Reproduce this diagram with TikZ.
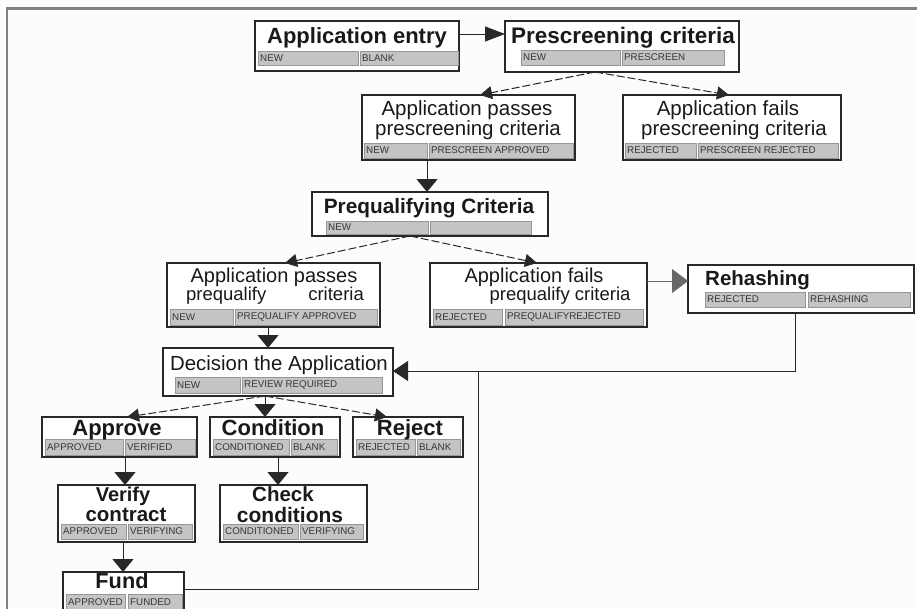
\documentclass[tikz,border=0pt]{standalone}
\usepackage{fontspec}
\setmainfont{Liberation Sans}
\usetikzlibrary{arrows.meta,calc}
\definecolor{framegray}{RGB}{128,128,128}
\definecolor{cellfill}{RGB}{196,196,196}
\definecolor{celledge}{RGB}{150,150,150}
\definecolor{celltext}{RGB}{55,55,55}
\definecolor{boxedge}{RGB}{40,40,40}
\definecolor{bgcol}{RGB}{252,252,252}
\tikzset{
  stbox/.style={draw=boxedge, line width=1.2pt, fill=white, inner sep=0pt, outer sep=0pt, anchor=north west},
  cellbx/.style={draw=celledge, line width=0.6pt, fill=cellfill, inner sep=0pt, outer sep=0pt, anchor=north west},
  celltx/.style={font=\fontsize{9.8}{10}\selectfont, text=celltext, inner sep=0pt, anchor=west},
  ttlb/.style={font=\fontsize{#1}{#1}\selectfont\bfseries, text=black!90, inner sep=0pt, anchor=base},
  ttlr/.style={font=\fontsize{#1}{#1}\selectfont, text=black!90, inner sep=0pt, anchor=base},
  flow/.style={draw=boxedge, line width=1pt, -{Triangle[length=13pt,width=21pt]}},
  dflow/.style={draw=boxedge, line width=1pt, dash pattern=on 8pt off 3pt, -{Triangle[length=12pt,width=13pt]}},
  plainln/.style={draw=boxedge, line width=1pt},
}
\newcommand{\mkbox}[5]{\node[stbox, minimum width={#4-#2}, minimum height={#5-#3}] (#1) at (#2,#3) {};}
\newcommand{\mkcell}[6]{\node[cellbx, minimum width={#4-#2}, minimum height={#5-#3}] (#1) at (#2,#3) {};
  \node[celltx] (#1t) at ([xshift=2pt]#1.west) {#6};}
\begin{document}
\begin{tikzpicture}[x=1pt,y=-1pt]
\useasboundingbox (0,0) rectangle (917,608);
\fill[bgcol] (0,0) rectangle (917,608);
\clip (0,0) rectangle (917,608);
\draw[framegray, line width=2.2pt] (7,620) -- (7,8.5) -- (925,8.5);

% Application entry
\mkbox{entry}{255}{21}{459}{71}
\mkcell{entryA}{258}{51}{358}{65}{NEW}
\mkcell{entryB}{360}{51}{458}{65}{BLANK}
\node[ttlb=22] (entryT) at (357,43) {Application entry};

% Prescreening criteria
\mkbox{prescreen}{505}{21}{739}{72}
\mkcell{prescreenA}{521}{50}{620}{65}{NEW}
\mkcell{prescreenB}{622}{50}{724}{65}{PRESCREEN}
\node[ttlb=22.5] (prescreenT) at (623,43) {Prescreening criteria};

% passes prescreening
\mkbox{passpre}{362}{95}{575}{160}
\mkcell{passpreA}{364}{143}{427}{158}{NEW}
\mkcell{passpreB}{429}{143}{573}{158}{PRESCREEN APPROVED}
\node[ttlr=20.5] (passpreT1) at (467,115) {Application passes};
\node[ttlr=20.5] (passpreT2) at (468,135) {prescreening criteria};

% fails prescreening
\mkbox{failpre}{623}{95}{841}{160}
\mkcell{failpreA}{625}{143}{696}{158}{REJECTED}
\mkcell{failpreB}{698}{143}{838}{158}{PRESCREEN REJECTED}
\node[ttlr=20.5] (failpreT1) at (728,115) {Application fails};
\node[ttlr=20.5] (failpreT2) at (734,135) {prescreening criteria};

% Prequalifying criteria
\mkbox{prequal}{312}{192}{548}{236}
\mkcell{prequalA}{326}{221}{428}{234}{NEW}
\mkcell{prequalB}{430}{221}{531}{234}{}
\node[ttlb=20.8] (prequalT) at (429,213) {Prequalifying Criteria};

% passes prequalify
\mkbox{passq}{167}{263}{380}{327}
\mkcell{passqA}{170}{309}{233}{325}{NEW}
\mkcell{passqB}{235}{309}{377}{325}{PREQUALIFY APPROVED}
\node[ttlr=20] (passqT1) at (274,282) {Application passes};
\node[ttlr=18.5] (passqT2) at (275,300) {prequalify\hspace{42pt}criteria};

% fails prequalify
\mkbox{failq}{430}{263}{647}{327}
\mkcell{failqA}{433}{309}{502}{325}{REJECTED}
\mkcell{failqB}{505}{309}{643}{325}{PREQUALIFYREJECTED}
\node[ttlr=20] (failqT1) at (534,282) {Application fails};
\node[ttlr=18.5] (failqT2) at (560,300) {prequalify criteria};

% Rehashing
\mkbox{rehash}{688}{265}{914}{313}
\mkcell{rehashA}{705}{292}{805}{307}{REJECTED}
\mkcell{rehashB}{808}{292}{910}{307}{REHASHING}
\node[ttlb=20.5, anchor=base west] (rehashT) at (705,285) {Rehashing};

% Decision
\mkbox{decision}{163}{348}{393}{396}
\mkcell{decisionA}{175}{377}{240}{393}{NEW}
\mkcell{decisionB}{242}{377}{382}{393}{REVIEW REQUIRED}
\node[ttlr=20.4] (decisionT) at (279,370) {Decision the Application};

% Approve / Condition / Reject
\mkbox{approve}{42}{417}{197}{457}
\mkcell{approveA}{45}{439}{123}{455}{APPROVED}
\mkcell{approveB}{125}{439}{195}{455}{VERIFIED}
\node[ttlb=22] (approveT) at (117,435) {Approve};

\mkbox{condition}{210}{417}{340}{457}
\mkcell{conditionA}{213}{439}{289}{455}{CONDITIONED}
\mkcell{conditionB}{291}{439}{337}{455}{BLANK}
\node[ttlb=22] (conditionT) at (273,435) {Condition};

\mkbox{reject}{353}{417}{463}{457}
\mkcell{rejectA}{356}{439}{415}{455}{REJECTED}
\mkcell{rejectB}{417}{439}{460}{455}{BLANK}
\node[ttlb=22] (rejectT) at (410,435) {Reject};

% Verify contract
\mkbox{verify}{58}{485}{195}{542}
\mkcell{verifyA}{61}{524}{126}{539}{APPROVED}
\mkcell{verifyB}{128}{524}{192}{539}{VERIFYING}
\node[ttlb=20] (verifyT1) at (123,501) {Verify};
\node[ttlb=20.5] (verifyT2) at (126,521) {contract};

% Check conditions
\mkbox{check}{220}{485}{367}{542}
\mkcell{checkA}{223}{524}{298}{539}{CONDITIONED}
\mkcell{checkB}{300}{524}{363}{539}{VERIFYING}
\node[ttlb=20.5] (checkT1) at (283,501) {Check};
\node[ttlb=21] (checkT2) at (290,522) {conditions};

% Fund
\mkbox{fund}{63}{572}{184}{615}
\mkcell{fundA}{66}{594}{125}{610}{APPROVED}
\mkcell{fundB}{128}{594}{182}{610}{FUNDED}
\node[ttlb=21.7] (fundT) at (122,588) {Fund};

% ---- connectors ----
\draw[flow, -{Triangle[length=20pt,width=15pt]}] ($(entry.north east)+(0,13)$) -- ($(prescreen.north west)+(0,13)$);

\coordinate (ps) at ($(prescreen.south)+(-27,0)$);
\draw[dflow] (ps) -- ($(passpre.north west)+(118,0)$);
\draw[dflow] (ps) -- ($(failpre.north west)+(106,0)$);

\coordinate (p1) at ($(passpre.south west)+(65,0)$);
\draw[flow] (p1) -- (p1 |- prequal.north);

\coordinate (qs) at ($(prequal.south)+(-20,0)$);
\draw[dflow] (qs) -- ($(passq.north west)+(118,0)$);
\draw[dflow] (qs) -- ($(failq.north west)+(107,0)$);

\coordinate (r1) at ($(failq.north east)+(0,18)$);
\draw[flow, draw=boxedge!70, -{Triangle[length=16pt,width=24pt]}] (r1) -- (r1 -| rehash.west);

\coordinate (d1) at ($(passq.south west)+(101,0)$);
\draw[flow] (d1) -- (d1 |- decision.north);

\coordinate (ds) at ($(decision.south)+(-13,0)$);
\draw[dflow] (ds) -- ($(approve.north west)+(85,0)$);
\draw[flow] (ds) -- (ds |- condition.north);
\draw[dflow] (ds) -- ($(reject.north west)+(34,0)$);

\coordinate (a1) at ($(approve.south west)+(83,0)$);
\draw[flow] (a1) -- (a1 |- verify.north);
\coordinate (c1) at ($(condition.south west)+(68,0)$);
\draw[flow] (c1) -- (c1 |- check.north);
\coordinate (v1) at ($(verify.south west)+(65,0)$);
\draw[flow] (v1) -- (v1 |- fund.north);

\coordinate (f1) at ($(fund.north east)+(0,17)$);
\coordinate (jb) at (478,589);
\coordinate (jt) at (478,371);
\draw[flow, -{Triangle[length=15pt,width=20pt]}] (f1) -- (jb) -- (jt) -- (jt -| decision.east);
\coordinate (r2) at ($(rehash.south west)+(107,0)$);
\draw[plainln] (r2) -- (r2 |- jt) -- (jt);
\end{tikzpicture}
\end{document}
